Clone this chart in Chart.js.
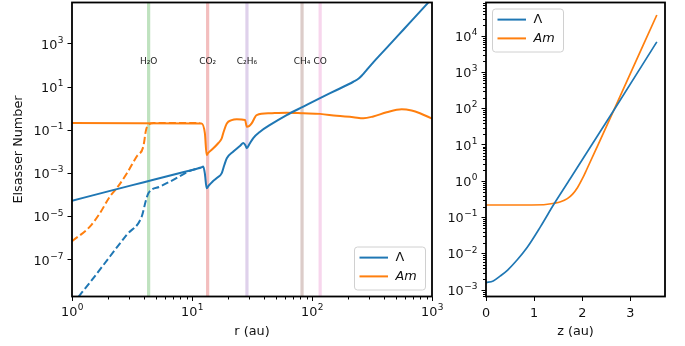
<!DOCTYPE html>
<html>
<head>
<meta charset="utf-8">
<script src="https://cdn.jsdelivr.net/npm/chart.js@4.4.0/dist/chart.umd.min.js"></script>
<style>
  html, body { margin: 0; padding: 0; background: #fff; }
  #wrap { position: relative; width: 685px; height: 346px; overflow: hidden; }
  #wrap canvas { position: absolute; top: 0; }
</style>
</head>
<body>
<div id="wrap">
  <canvas id="radial" width="460" height="346" style="left:0"></canvas>
  <canvas id="vertical" width="245" height="346" style="left:440px"></canvas>
</div>
<script>
/* ── Midplane profile vs radius (au) ─────────────── */
const lambdaR   = [1, 2.0, 3.98, 7.94, 11.9, 12.4, 12.8, 13.25, 13.8, 14.8, 16.1, 17.7, 18.6, 19.5, 22.1, 25.1, 26.8, 27.9, 28.6, 30.2, 32.4, 36.9, 44.7, 61.5, 84.7, 116.7, 160.7, 221, 245, 262, 285, 324, 419, 577, 794, 1000];
const lambdaMid = [5.5e-5, 1.5e-4, 4.0e-4, 1.07e-3, 1.9e-3, 2.1e-3, 1.0e-3, 2.1e-4, 2.8e-4, 4.2e-4, 6.2e-4, 1.05e-3, 2.5e-3, 5.1e-3, 1.05e-2, 1.9e-2, 2.6e-2, 2.0e-2, 1.5e-2, 2.4e-2, 4.4e-2, 8.7e-2, 0.178, 0.51, 1.26, 3.1, 7.4, 17.8, 25, 36, 62, 141, 660, 4570, 31600, 1.26e5];

const amR   = [1, 12.0, 12.8, 13.25, 13.6, 14.6, 16.6, 17.6, 18.2, 19.5, 21.4, 23.6, 27.7, 28.6, 29.9, 31.4, 34.6, 44.7, 61.5, 84.7, 116.7, 160.7, 221, 268, 324, 419, 559, 676, 794, 1000];
const amMid = [0.22, 0.21, 0.074, 7.2e-3, 8.9e-3, 1.26e-2, 2.6e-2, 0.04, 0.074, 0.21, 0.30, 0.33, 0.30, 0.148, 0.158, 0.21, 0.51, 0.62, 0.66, 0.62, 0.58, 0.47, 0.41, 0.36, 0.44, 0.69, 0.95, 0.83, 0.62, 0.35];

// dashed: dust-free disc
const lambdaDiskR = [1, 1.167, 1.507, 2.07, 2.86, 3.81, 4.14, 4.33, 5.41, 6.98, 9.62, 11.75];
const lambdaDisk  = [8.5e-10, 2.45e-9, 1.45e-8, 1.45e-7, 1.48e-6, 1.02e-5, 6.0e-5, 1.23e-4, 2.5e-4, 5.1e-4, 1.35e-3, 1.86e-3];
const amDiskR = [1, 1.41, 1.71, 2.07, 2.36, 2.86, 3.46, 3.93, 4.14, 4.33, 4.79, 11.7];
const amDisk  = [7.4e-7, 3.5e-6, 1.48e-5, 8.7e-5, 2.1e-4, 1.0e-3, 6.2e-3, 1.78e-2, 0.105, 0.178, 0.22, 0.22];

// snow lines
const snowNames  = ['H₂O', 'CO₂', 'C₂H₆', 'CH₄', 'CO'];
const snowR      = [4.35, 13.5, 28.7, 82.6, 116.9];
const snowColors = ['rgba(44,160,44,0.3)', 'rgba(214,39,40,0.3)', 'rgba(148,103,189,0.3)', 'rgba(140,86,75,0.3)', 'rgba(227,119,194,0.3)'];
const snowLabelLevel = 150;

/* ── Vertical profile vs height z (au) ───────────── */
const lambdaZ    = [0, 0.15, 0.3, 0.45, 0.65, 0.854, 1.13, 1.41, 1.756, 2.03, 2.65, 3.55];
const lambdaVert = [1.6e-3, 1.78e-3, 2.45e-3, 3.55e-3, 6.8e-3, 1.48e-2, 5.5e-2, 0.23, 1.2, 4.5, 87, 6900];
const amZ    = [0, 0.6, 1.2, 1.41, 1.55, 1.69, 1.8, 1.9, 2.0, 2.1, 2.3, 2.65, 3.55];
const amVert = [0.22, 0.22, 0.224, 0.245, 0.27, 0.33, 0.44, 0.66, 1.15, 2.2, 8.3, 87, 38000];

// tick values
const radialTicksX = [1, 10, 100, 1000];
const radialTicksY = [1e-7, 1e-5, 1e-3, 1e-1, 1e1, 1e3];
const vertTicksX   = [0, 1, 2, 3];
const vertTicksY   = [1e-3, 1e-2, 1e-1, 1e0, 1e1, 1e2, 1e3, 1e4];

const BLUE = '#1f77b4', ORANGE = '#ff7f0e', INK = '#111';
const FONT = '"DejaVu Sans", sans-serif';

Chart.defaults.font.family = FONT;
Chart.defaults.font.size = 12.8;
Chart.defaults.color = INK;

const pts = (xs, ys) => xs.map((x, i) => ({ x, y: ys[i] }));

function series(xs, ys, color, width, dashed, label) {
  return {
    label,
    data: pts(xs, ys),
    borderColor: color,
    backgroundColor: color,
    borderWidth: width,
    borderDash: dashed ? [7.1, 3.1] : [],
    showLine: true,
    pointRadius: 0,
    cubicInterpolationMode: 'monotone',
    fill: false,
  };
}

/* ── plugins ─────────────────────────────────────── */
// snow line bands + labels behind the curves
const snowLines = {
  id: 'snowLines',
  beforeDatasetsDraw(chart, args, opts) {
    if (!opts.show) return;
    const { ctx, chartArea: a, scales: { x, y } } = chart;
    ctx.save();
    snowR.forEach((r, i) => {
      const px = x.getPixelForValue(r);
      ctx.fillStyle = snowColors[i];
      ctx.fillRect(px - 1.6, a.top, 3.2, a.bottom - a.top);
    });
    ctx.fillStyle = '#222';
    ctx.font = '9px ' + FONT;
    ctx.textAlign = 'center';
    ctx.textBaseline = 'middle';
    const py = y.getPixelForValue(snowLabelLevel);
    snowR.forEach((r, i) => ctx.fillText(snowNames[i], x.getPixelForValue(r), py));
    ctx.restore();
  }
};

// minor log ticks and the closed frame
const frameTicks = {
  id: 'frameTicks',
  afterDatasetsDraw(chart, args, opts) {
    const { ctx, chartArea: a } = chart;
    ctx.save();
    ctx.strokeStyle = '#000';
    ctx.lineWidth = 1;
    (opts.minor || []).forEach(id => {
      const s = chart.scales[id];
      const k0 = Math.floor(Math.log10(s.min)), k1 = Math.ceil(Math.log10(s.max));
      for (let k = k0; k <= k1; k++) {
        for (let m = 2; m < 10; m++) {
          const v = m * Math.pow(10, k);
          if (v < s.min || v > s.max) continue;
          const p = Math.round(s.getPixelForValue(v)) + 0.5;
          ctx.beginPath();
          if (s.isHorizontal()) { ctx.moveTo(p, a.bottom); ctx.lineTo(p, a.bottom + 3); }
          else { ctx.moveTo(a.left, p); ctx.lineTo(a.left - 3, p); }
          ctx.stroke();
        }
      }
    });
    ctx.lineWidth = 1.8;
    ctx.strokeRect(a.left, a.top, a.right - a.left, a.bottom - a.top);
    ctx.restore();
  }
};

// 10^n tick labels with raised exponents
const powerLabels = {
  id: 'powerLabels',
  afterDraw(chart, args, opts) {
    const { ctx } = chart;
    ctx.save();
    ctx.fillStyle = INK;
    ctx.textBaseline = 'alphabetic';
    ctx.textAlign = 'left';
    (opts.axes || []).forEach(id => {
      const s = chart.scales[id];
      s.ticks.forEach(t => {
        const exp = String(Math.round(Math.log10(t.value))).replace('-', '\u2212');
        ctx.font = '12.8px ' + FONT;
        const wb = ctx.measureText('10').width;
        ctx.font = '9px ' + FONT;
        const we = ctx.measureText(exp).width;
        const p = s.getPixelForValue(t.value);
        let x0, base;
        if (s.isHorizontal()) { x0 = p - (wb + we) / 2; base = s.top + 19.5; }
        else { x0 = s.right - 9 - wb - we; base = p + 4.7; }
        ctx.font = '12.8px ' + FONT;
        ctx.fillText('10', x0, base);
        ctx.font = '9px ' + FONT;
        ctx.fillText(exp, x0 + wb + 0.5, base - 5.8);
      });
    });
    ctx.restore();
  }
};

// framed legend inside the plot area
const boxLegend = {
  id: 'boxLegend',
  afterDraw(chart, args, opts) {
    const { ctx, chartArea: a } = chart;
    const items = chart.data.datasets.filter(d => d.label);
    const w = 71, h = 43, inset = 6.5;
    const bx = opts.corner === 'topLeft' ? a.left + inset : a.right - inset - w;
    const by = opts.corner === 'topLeft' ? a.top + inset : a.bottom - inset - h;
    ctx.save();
    ctx.beginPath();
    ctx.roundRect(bx, by, w, h, 3);
    ctx.fillStyle = 'rgba(255,255,255,0.8)';
    ctx.fill();
    ctx.strokeStyle = '#d0d0d0';
    ctx.lineWidth = 1;
    ctx.stroke();
    items.forEach((d, i) => {
      const ly = by + 10.6 + i * 18.8;
      ctx.strokeStyle = d.borderColor;
      ctx.lineWidth = 2;
      ctx.beginPath();
      ctx.moveTo(bx + 5, ly);
      ctx.lineTo(bx + 33.5, ly);
      ctx.stroke();
      ctx.fillStyle = INK;
      ctx.font = (d.label === 'Am' ? 'italic ' : '') + '12.8px ' + FONT;
      ctx.textBaseline = 'middle';
      ctx.fillText(d.label, bx + 41, ly + 0.5);
    });
    ctx.restore();
  }
};

const tickGrid = { drawOnChartArea: false, drawTicks: true, tickLength: 4.5, tickColor: '#000', tickWidth: 1 };

function fixBox(size, horizontal) {
  return scale => {
    if (horizontal) scale.height = size; else scale.width = size;
    scale.paddingLeft = scale.paddingRight = scale.paddingTop = scale.paddingBottom = 0;
  };
}

/* ── 1. Elsasser numbers along the midplane ──────── */
new Chart(document.getElementById('radial'), {
  type: 'scatter',
  data: {
    datasets: [
      series(lambdaR, lambdaMid, BLUE, 2, false, 'Λ'),
      series(amR, amMid, ORANGE, 2, false, 'Am'),
      series(lambdaDiskR, lambdaDisk, BLUE, 2, true),
      series(amDiskR, amDisk, ORANGE, 2, true),
    ]
  },
  options: {
    responsive: false,
    animation: false,
    layout: { padding: { left: 0, top: 2.5, right: 28, bottom: 0 } },
    plugins: {
      legend: { display: false },
      tooltip: { enabled: false },
      snowLines: { show: true },
      frameTicks: { minor: ['x'] },
      powerLabels: { axes: ['x', 'y'] },
      boxLegend: { corner: 'bottomRight' },
    },
    scales: {
      x: {
        type: 'logarithmic', min: 1, max: 1000,
        afterBuildTicks: s => { s.ticks = radialTicksX.map(v => ({ value: v })); },
        afterFit: fixBox(49.5, true),
        ticks: { display: false },
        grid: tickGrid,
        border: { display: false },
        title: { display: true, text: 'r (au)', padding: { top: 0, bottom: 7 } },
      },
      y: {
        type: 'logarithmic', min: 2.04e-9, max: 8.3e4,
        afterBuildTicks: s => { s.ticks = radialTicksY.map(v => ({ value: v })); },
        afterFit: fixBox(72, false),
        ticks: { display: false },
        grid: tickGrid,
        border: { display: false },
        title: { display: true, text: 'Elsasser Number', padding: { top: 11, bottom: 0 } },
      }
    }
  },
  plugins: [snowLines, frameTicks, powerLabels, boxLegend]
});

/* ── 2. Elsasser numbers with height ─────────────── */
new Chart(document.getElementById('vertical'), {
  type: 'scatter',
  data: {
    datasets: [
      series(lambdaZ, lambdaVert, BLUE, 1.7, false, 'Λ'),
      series(amZ, amVert, ORANGE, 1.7, false, 'Am'),
    ]
  },
  options: {
    responsive: false,
    animation: false,
    layout: { padding: { left: 0, top: 2.5, right: 20, bottom: 0 } },
    plugins: {
      legend: { display: false },
      tooltip: { enabled: false },
      frameTicks: { minor: ['y'] },
      powerLabels: { axes: ['y'] },
      boxLegend: { corner: 'topLeft' },
    },
    scales: {
      x: {
        type: 'linear', min: 0, max: 3.72,
        afterBuildTicks: s => { s.ticks = vertTicksX.map(v => ({ value: v })); },
        afterFit: fixBox(49.5, true),
        ticks: { padding: 4.5, callback: v => String(v), maxRotation: 0, font: { size: 12.8 } },
        grid: tickGrid,
        border: { display: false },
        title: { display: true, text: 'z (au)', padding: { top: 0, bottom: 7 } },
      },
      y: {
        type: 'logarithmic', min: 6.62e-4, max: 8.4e4,
        afterBuildTicks: s => { s.ticks = vertTicksY.map(v => ({ value: v })); },
        afterFit: fixBox(46, false),
        ticks: { display: false },
        grid: tickGrid,
        border: { display: false },
      }
    }
  },
  plugins: [frameTicks, powerLabels, boxLegend]
});
</script>
</body>
</html>
